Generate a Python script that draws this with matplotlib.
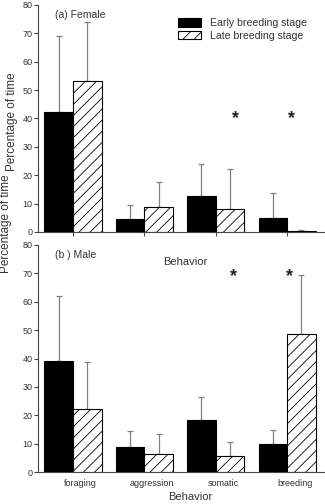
import numpy as np
import matplotlib
matplotlib.use("Agg")
import matplotlib.pyplot as plt
from matplotlib.patches import Patch

plt.rcParams['font.family'] = ['Liberation Sans', 'DejaVu Sans']
plt.rcParams['hatch.linewidth'] = 0.6

# Data
behaviors = ["foraging", "aggression", "somatic", "breeding"]

female_early = [42.2, 4.7, 12.7, 4.9]
female_early_top = [69.0, 9.4, 23.8, 13.8]
female_late = [53.2, 8.8, 8.0, 0.3]
female_late_top = [74.0, 17.7, 22.3, 0.7]

male_early = [39.2, 8.8, 18.5, 10.0]
male_early_top = [62.0, 14.5, 26.5, 14.7]
male_late = [22.3, 6.2, 5.7, 48.5]
male_late_top = [38.6, 13.3, 10.7, 69.4]

female_stars = [(2.27, 41.9), (3.06, 41.9)]
male_stars = [(2.25, 70.5), (3.03, 70.5)]

W, H = 325, 504
fig = plt.figure(figsize=(W / 100, H / 100), dpi=100)

TXT = '#333333'
ERR = '#808080'


def panel(ax, early, early_top, late, late_top, stars, title):
  x = np.arange(len(behaviors))
  w = 0.4
  ax.bar(x - w / 2, early, w, color='black', edgecolor='black', linewidth=0.8, zorder=2)
  ax.bar(x + w / 2, late, w, color='white', edgecolor='black', linewidth=0.8,
         hatch='///', zorder=2)
  for xs, ys, tops in ((x - w / 2, early, early_top), (x + w / 2, late, late_top)):
    ys = np.array(ys)
    up = np.array(tops) - ys
    ax.errorbar(xs, ys, yerr=[np.zeros_like(up), up], fmt='none', ecolor=ERR,
                elinewidth=0.9, capsize=2, capthick=0.9, zorder=1)
  # asterisk glyph sits high in its box, so shift it down a little
  for sx, sy in stars:
    ax.text(sx, sy - 1.8, '*', ha='center', va='center', fontsize=13,
            fontweight='bold', color='#222222')
  ax.set_xlim(-0.49, 3.53)
  ax.set_ylim(0, 80)
  ax.set_yticks(np.arange(0, 81, 10))
  for s in ('top', 'right'):
    ax.spines[s].set_visible(False)
  for s in ('left', 'bottom'):
    ax.spines[s].set_linewidth(0.8)
    ax.spines[s].set_color('#444444')
  ax.tick_params(axis='y', direction='out', length=3, width=0.8, labelsize=6.5,
                 colors='#444444', labelcolor=TXT, pad=1)
  ax.text(0.06, 0.955, title, transform=ax.transAxes, fontsize=7.5, color=TXT,
          ha='left', va='center')
  return x


ax1 = fig.add_axes([38 / W, 1 - 232 / H, 287 / W, 227 / H])
x = panel(ax1, female_early, female_early_top, female_late, female_late_top,
          female_stars, "(a) Female")
ax1.set_xticks(x)
ax1.set_xticklabels([])
ax1.tick_params(axis='x', direction='out', length=3, width=0.8, colors='#444444')

handles = [Patch(facecolor='black', edgecolor='black', linewidth=0.8),
           Patch(facecolor='white', edgecolor='black', linewidth=0.8, hatch='///')]
fig.legend(handles, ["Early breeding stage", "Late breeding stage"],
           loc='upper left', bbox_to_anchor=(178 / W, 1 - 18 / H), frameon=False,
           fontsize=7.6, handlelength=2.2, handleheight=0.9, handletextpad=0.8,
           labelspacing=0.25, borderpad=0, borderaxespad=0, labelcolor=TXT)

ax2 = fig.add_axes([38 / W, 1 - 472 / H, 287 / W, 227 / H])
x = panel(ax2, male_early, male_early_top, male_late, male_late_top,
          male_stars, "(b ) Male")
ax2.set_xticks(x + 0.11)
ax2.set_xticklabels(behaviors)
ax2.tick_params(axis='x', length=0, labelsize=6.5, labelcolor=TXT, pad=5)

fig.text(12 / W, 1 - 122 / H, "Percentage of time", rotation=90, ha='center',
         va='center', fontsize=8.5, color=TXT)
fig.text(6 / W, 1 - 224 / H, "Percentage of time", rotation=90, ha='center',
         va='center', fontsize=8.5, color=TXT)
fig.text(185 / W, 1 - 262 / H, "Behavior", ha='center', va='center',
         fontsize=8, color=TXT)
fig.text(190 / W, 1 - 497 / H, "Behavior", ha='center', va='center',
         fontsize=8, color=TXT)

fig.savefig("out.png", dpi=100)
